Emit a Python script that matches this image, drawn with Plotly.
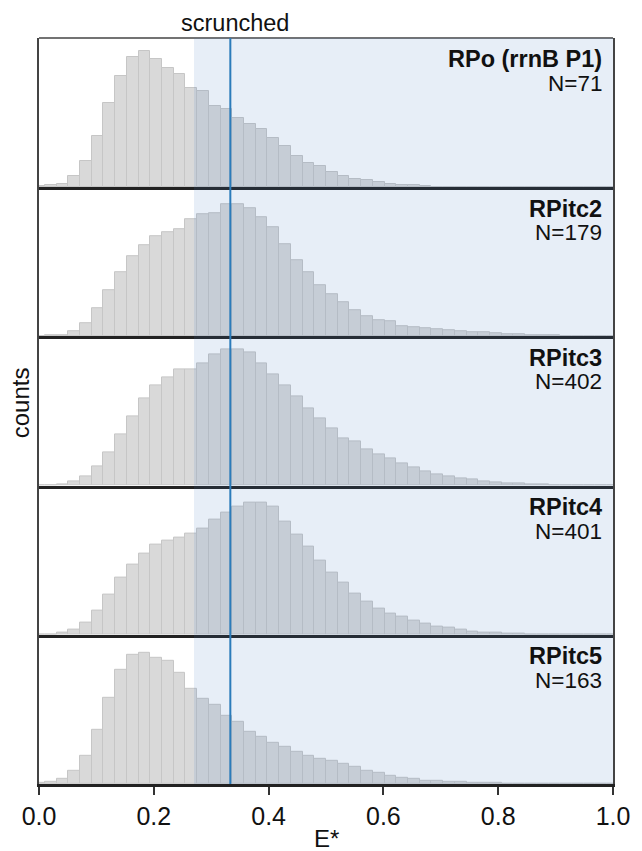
import numpy as np
import plotly.graph_objects as go
from plotly.subplots import make_subplots

# ---- data ----
n_bins = 50
bin_centers = [k / 49 for k in range(n_bins)]
bin_width = 1 / 49

panel_names = ["RPo (rrnB P1)", "RPitc2", "RPitc3", "RPitc4", "RPitc5"]
panel_n = [71, 179, 402, 401, 163]

counts_rpo = [1.0, 2.0, 3.7, 11.3, 26.0, 51.0, 84.3, 111.0, 130.0, 136.3,
              128.0, 119.7, 113.0, 99.3, 96.3, 81.7, 78.7, 69.7, 63.7, 58.7,
              49.0, 41.0, 31.3, 24.7, 21.0, 15.7, 11.3, 8.3, 7.0, 5.3,
              3.7, 2.0, 2.0, 1.7, 0, 0, 0, 0, 0, 0,
              0, 0, 0, 0, 0, 0, 0, 0, 0, 0]
counts_itc2 = [0.5, 1.0, 1.0, 5.0, 13.3, 28.7, 46.7, 64.7, 80.0, 91.3,
               100.7, 104.3, 107.3, 117.0, 122.3, 123.7, 132.3, 132.3, 128.7, 119.3,
               109.7, 92.7, 76.3, 64.7, 51.0, 42.3, 34.3, 26.0, 20.3, 16.7,
               15.0, 10.7, 9.3, 8.3, 7.3, 6.3, 5.3, 4.3, 4.0, 3.3,
               2.7, 2.3, 1.7, 1.3, 1.0, 0.7, 0, 0, 0, 0]
counts_itc3 = [0.3, 0.7, 1.0, 4.0, 9.3, 19.0, 33.7, 51.0, 69.0, 87.7,
               100.7, 108.7, 116.0, 116.7, 122.0, 131.0, 136.7, 136.7, 133.0, 122.7,
               111.7, 100.0, 89.7, 77.7, 67.7, 57.0, 47.7, 44.0, 36.7, 31.3,
               27.0, 22.0, 18.3, 14.3, 11.7, 9.7, 7.7, 6.0, 4.7, 3.3,
               2.7, 2.0, 1.3, 1.0, 0.7, 0, 0, 0, 0, 0]
counts_itc4 = [0.2, 0.3, 2.3, 5.3, 12.7, 24.3, 40.7, 57.7, 70.0, 81.3,
               90.7, 94.7, 97.3, 101.0, 106.3, 115.3, 122.0, 128.7, 132.0, 132.7,
               128.3, 113.7, 100.0, 88.0, 74.0, 62.0, 52.3, 41.7, 33.3, 26.3,
               21.7, 18.7, 14.7, 11.7, 8.7, 7.0, 5.0, 3.7, 2.7, 2.0,
               1.3, 1.0, 0.7, 0.3, 0, 0, 0, 0, 0, 0]
counts_itc5 = [1.0, 2.0, 5.7, 13.7, 28.7, 54.7, 86.7, 114.7, 129.7, 131.0,
               126.3, 123.0, 111.0, 95.7, 85.7, 79.3, 68.3, 62.3, 52.7, 47.0,
               41.7, 37.7, 32.3, 28.7, 25.0, 23.3, 20.0, 17.7, 13.3, 11.0,
               8.3, 6.7, 5.3, 3.7, 3.3, 2.7, 2.0, 1.7, 1.3, 1.0,
               0.7, 0.3, 0, 0, 0, 0, 0, 0, 0, 0]
all_counts = [counts_rpo, counts_itc2, counts_itc3, counts_itc4, counts_itc5]

scrunched_start = 0.27
threshold = 1 / 3
tick_vals = [0.0, 0.2, 0.4, 0.6, 0.8, 1.0]
tick_text = ["0.0", "0.2", "0.4", "0.6", "0.8", "1.0"]
y_max = 149.3

# ---- figure ----
W, H = 642, 851
ml, mr, mt, mb = 39, 21, 38, 67
plot_w = W - ml - mr
plot_h = H - mt - mb
FONT = "Liberation Sans, Arial, sans-serif"

fig = make_subplots(rows=5, cols=1, shared_xaxes=True, vertical_spacing=0)

for i, vals in enumerate(all_counts):
    fig.add_trace(go.Bar(x=bin_centers, y=vals, width=bin_width,
                         marker=dict(color="rgb(217,217,217)",
                                     line=dict(color="rgb(198,198,198)", width=1)),
                         showlegend=False, hoverinfo="skip"),
                  row=i + 1, col=1)

for i in range(5):
    xa = "xaxis" if i == 0 else f"xaxis{i+1}"
    ya = "yaxis" if i == 0 else f"yaxis{i+1}"
    fig.layout[xa].update(range=[0, 1], showgrid=False, zeroline=False,
                          showline=True, linecolor="#222", linewidth=2.5,
                          ticks="", showticklabels=False)
    fig.layout[ya].update(range=[0, y_max], showgrid=False, zeroline=False,
                          showline=True, mirror=True, linecolor="#444", linewidth=1.5,
                          ticks="", showticklabels=False)

fig.layout["xaxis5"].update(ticks="outside", ticklen=8, tickwidth=1.5, tickcolor="#333",
                            showticklabels=True, tickvals=tick_vals, ticktext=tick_text,
                            ticklabeloverflow="allow",
                            tickfont=dict(size=25, color="#111", family=FONT))

# top border
fig.add_shape(type="line", xref="paper", yref="paper", x0=0, x1=1, y0=1, y1=1,
              line=dict(color="#444", width=1.5))
# scrunched shading
fig.add_shape(type="rect", xref="x", yref="paper", x0=scrunched_start, x1=1, y0=0, y1=1,
              fillcolor="rgba(70,120,190,0.13)", line=dict(width=0), layer="above")
# threshold line
fig.add_shape(type="line", xref="x", yref="paper", x0=threshold, x1=threshold, y0=0, y1=1,
              line=dict(color="#2b7bba", width=2), layer="above")

annotations = []
ph_px = plot_h / 5
x_lab = 1 - 9.5 / plot_w
for i in range(5):
    top_px = i * ph_px
    y_name = 1 - (top_px + 21.5) / plot_h
    y_n = 1 - (top_px + 45.5) / plot_h
    annotations.append(dict(text=f"<b>{panel_names[i]}</b>", xref="paper", yref="paper",
                            x=x_lab, y=y_name, xanchor="right",
                            yanchor="middle", showarrow=False,
                            font=dict(size=23.5, color="#111", family=FONT)))
    annotations.append(dict(text=f"N={panel_n[i]}", xref="paper", yref="paper",
                            x=x_lab, y=y_n, xanchor="right",
                            yanchor="middle", showarrow=False,
                            font=dict(size=22.5, color="#111", family=FONT)))

annotations.append(dict(text="scrunched", xref="x", yref="paper", x=0.341,
                        y=1 + (mt - 22.5) / plot_h, xanchor="center", yanchor="middle",
                        showarrow=False, font=dict(size=23.5, color="#111", family=FONT)))
annotations.append(dict(text="counts", xref="paper", yref="paper",
                        x=(20 - ml) / plot_w, y=1 - (403 - mt) / plot_h, textangle=-90,
                        xanchor="center", yanchor="middle", showarrow=False,
                        font=dict(size=24, color="#111", family=FONT)))
annotations.append(dict(text="E*", xref="paper", yref="paper", x=0.5,
                        y=-(838 - (H - mb)) / plot_h, xanchor="center", yanchor="middle",
                        showarrow=False, font=dict(size=24, color="#111", family=FONT)))

fig.update_layout(width=W, height=H, margin=dict(l=ml, r=mr, t=mt, b=mb, pad=0),
                  paper_bgcolor="white", plot_bgcolor="white", bargap=0,
                  annotations=annotations, font=dict(family=FONT))

fig.write_html("out.html", include_plotlyjs=True, full_html=True,
               config={"displayModeBar": False})
